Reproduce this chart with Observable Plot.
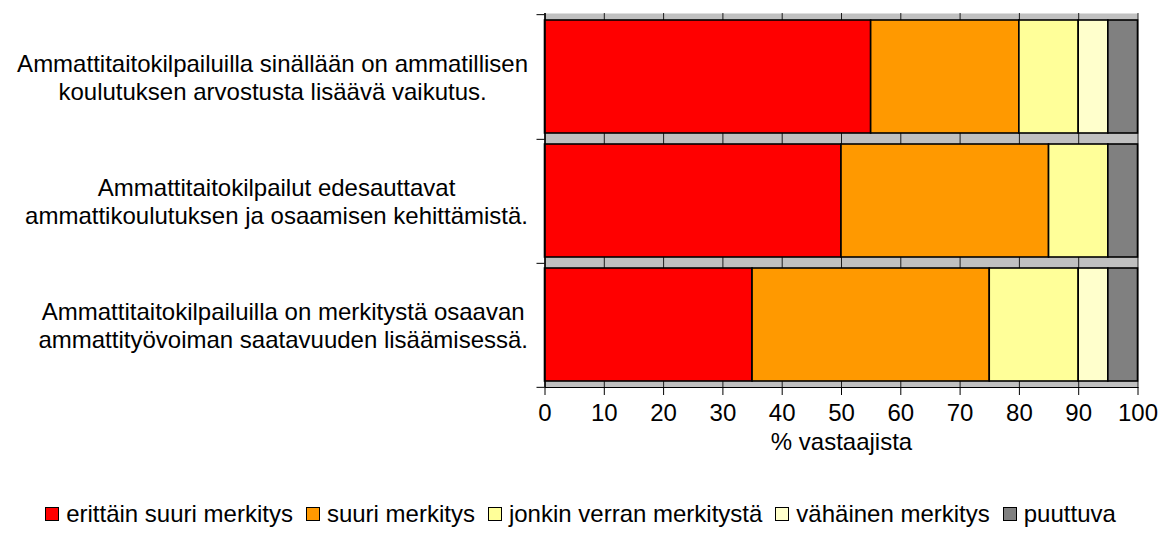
<!DOCTYPE html>
<html>
<head>
<meta charset="utf-8">
<script src="https://cdn.jsdelivr.net/npm/d3@7"></script>
<script src="https://cdn.jsdelivr.net/npm/@observablehq/plot@0.6"></script>
<style>
  html, body { margin: 0; padding: 0; background: white; }
  #chart svg { display: block; }
  #legend { display: flex; justify-content: center; align-items: center; font-family: 'Liberation Sans', Arial, sans-serif; font-size: 24px; color: black; height: 28px; margin-top: 2px; white-space: nowrap; }
  .item { display: flex; align-items: center; margin: 0 6.5px; }
  .sw { width: 14px; height: 14px; border: 1.5px solid black; margin-right: 7px; box-sizing: border-box; }
</style>
</head>
<body>
<div id="chart"></div>
<div id="legend"></div>
<script>
const questions = [
  "Ammattitaitokilpailuilla sinällään on ammatillisen\nkoulutuksen arvostusta lisäävä vaikutus.",
  "Ammattitaitokilpailut edesauttavat\nammattikoulutuksen ja osaamisen kehittämistä.",
  "Ammattitaitokilpailuilla on merkitystä osaavan\nammattityövoiman saatavuuden lisäämisessä."
];
const categories = ["erittäin suuri merkitys", "suuri merkitys", "jonkin verran merkitystä", "vähäinen merkitys", "puuttuva"];
const erittainSuuri = [55, 50, 35];
const suuri = [25, 35, 40];
const jonkinVerran = [10, 10, 15];
const vahainen = [5, 0, 5];
const puuttuvaVals = [5, 5, 5];
const colors = ["#FF0000", "#FF9900", "#FFFF99", "#FFFFCC", "#808080"];
const xTicks = [0, 10, 20, 30, 40, 50, 60, 70, 80, 90, 100];
const xLabel = "% vastaajista";

const series = [erittainSuuri, suuri, jonkinVerran, vahainen, puuttuvaVals];
const data = [];
questions.forEach((q, i) => {
  categories.forEach((c, j) => {
    if (series[j][i] > 0) data.push({q, cat: c, value: series[j][i]});
  });
});

const W = 1161, H = 498, mt = 13, mb = 111, ml = 544.5, mr = 23.5;
const step = (H - mt - mb) / questions.length;
const FONT = "'Liberation Sans', Arial, sans-serif";

const ctx = document.createElement("canvas").getContext("2d");
ctx.font = "24px 'Liberation Sans'";
const labelMarks = questions.map(q => {
  const w = d3.max(q.split("\n"), s => ctx.measureText(s).width);
  return Plot.text([q], {y: d => d, frameAnchor: "left", textAnchor: "middle", dx: -(17 + w / 2), lineHeight: 1.15, fontSize: 24, fill: "black"});
});

const chart = Plot.plot({
  width: W, height: H,
  marginTop: mt, marginBottom: mb, marginLeft: ml, marginRight: mr,
  x: {domain: [0, 100]},
  y: {domain: questions, paddingInner: 0.09, paddingOuter: 0.045},
  color: {domain: categories, range: colors},
  style: {fontFamily: FONT, fontSize: "24px", color: "black", background: "white", overflow: "visible"},
  marks: [
    Plot.frame({fill: "#C0C0C0"}),
    Plot.gridX(xTicks, {stroke: "black", strokeOpacity: 0.85, strokeWidth: 1}),
    Plot.barX(data, {x: "value", y: "q", fill: "cat", stroke: "black", strokeWidth: 1.6, order: categories}),
    Plot.ruleX([0], {stroke: "black", strokeWidth: 1.5}),
    Plot.frame({anchor: "bottom", stroke: "black", strokeWidth: 1}),
    Plot.axisX(xTicks, {tickSize: 8, tickPadding: 8, fontSize: 24, label: null, stroke: "black"}),
    Plot.axisY(questions, {tickSize: 8, dy: step / 2, tickFormat: () => "", label: null}),
    Plot.axisY([questions[0]], {tickSize: 8, dy: -step / 2, tickFormat: () => "", label: null}),
    ...labelMarks,
    Plot.text([xLabel], {frameAnchor: "bottom", dy: 62, fontSize: 24, fill: "black"})
  ]
});
document.getElementById("chart").appendChild(chart);

const legend = document.getElementById("legend");
categories.forEach((c, i) => {
  const item = document.createElement("div");
  item.className = "item";
  const sw = document.createElement("div");
  sw.className = "sw";
  sw.style.background = colors[i];
  const t = document.createElement("span");
  t.textContent = c;
  item.appendChild(sw);
  item.appendChild(t);
  legend.appendChild(item);
});
</script>
</body>
</html>
